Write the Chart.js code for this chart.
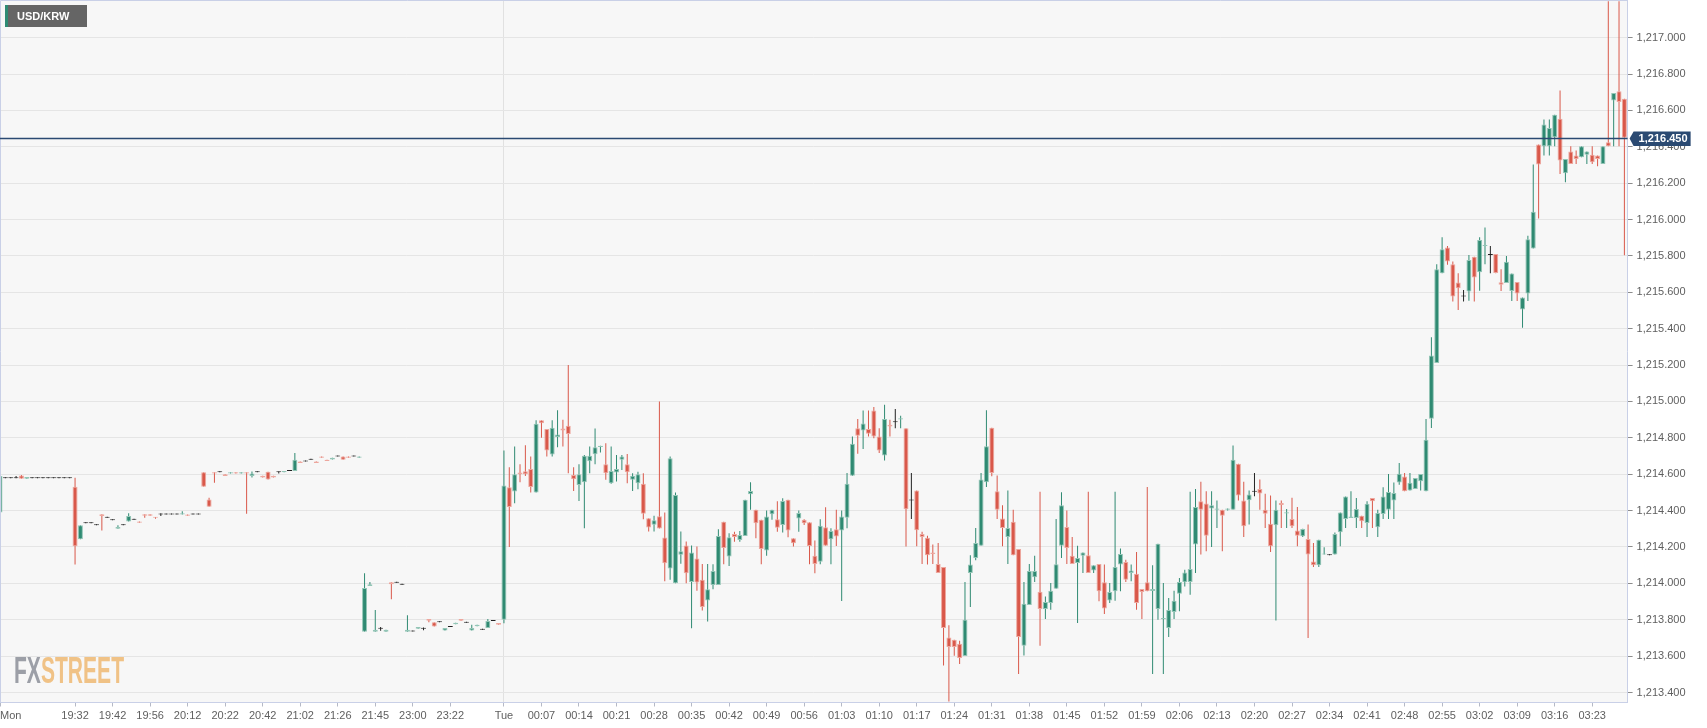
<!DOCTYPE html>
<html>
<head>
<meta charset="utf-8">
<title>USD/KRW</title>
<script src="https://cdn.jsdelivr.net/npm/chart.js@4.4.1/dist/chart.umd.min.js"></script>
<style>
    html, body { margin: 0; padding: 0; background: #ffffff; overflow: hidden; }
    #wrap { position: relative; width: 1707px; height: 728px; }
</style>
</head>
<body>
<div id="wrap"><canvas id="fxChart"></canvas></div>
<script>
// ==========================================================================
// Data: 1-minute USD/KRW candles (index 0 = first Monday candle, 94 = Tue 00:00)
// ==========================================================================

const openP = [
    1214.39, 1214.578, 1214.578, 1214.578, 1214.593, 1214.575, 1214.578, 1214.578, 1214.578, 1214.578,
    1214.578, 1214.578, 1214.578, 1214.578, 1214.531, 1214.242, 1214.33, 1214.33, 1214.32, 1214.38,
    1214.36, 1214.347, 1214.30, 1214.32, 1214.34, 1214.35, 1214.34, 1214.38, 1214.38, 1214.365,
    1214.378, 1214.378, 1214.378, 1214.378, 1214.378, 1214.378, 1214.378, 1214.378, 1214.611, 1214.461,
    1214.611, 1214.611, 1214.60, 1214.604, 1214.611, 1214.604, 1214.611, 1214.59, 1214.611, 1214.591,
    1214.613, 1214.591, 1214.611, 1214.611, 1214.617, 1214.617, 1214.67, 1214.67, 1214.68, 1214.67,
    1214.698, 1214.68, 1214.681, 1214.697, 1214.698, 1214.697, 1214.698, 1214.69, 1213.734, 1213.986,
    1213.734, 1213.75, 1213.734, 1214.006, 1214.003, 1213.992, 1213.734, 1213.736, 1213.75, 1213.75,
    1213.804, 1213.786, 1213.786, 1213.741, 1213.76, 1213.775, 1213.804, 1213.784, 1213.741, 1213.764,
    1213.745, 1213.754, 1213.793, 1213.782, 1213.80, 1214.528, 1214.505, 1214.61, 1214.616, 1214.629,
    1214.50, 1214.896, 1214.849, 1214.708, 1214.805, 1214.852, 1214.867, 1214.596, 1214.541, 1214.556,
    1214.671, 1214.71, 1214.75, 1214.655, 1214.55, 1214.609, 1214.679, 1214.655, 1214.569, 1214.55,
    1214.547, 1214.358, 1214.322, 1214.369, 1214.252, 1214.082, 1214.00, 1214.157, 1214.208, 1214.007,
    1214.137, 1214.02, 1213.906, 1213.991, 1213.991, 1214.338, 1214.147, 1214.272, 1214.239, 1214.26,
    1214.49, 1214.404, 1214.349, 1214.18, 1214.38, 1214.352, 1214.321, 1214.459, 1214.248, 1214.356,
    1214.349, 1214.336, 1214.152, 1214.119, 1214.308, 1214.242, 1214.297, 1214.29, 1214.361, 1214.591,
    1214.853, 1214.84, 1214.848, 1214.95, 1214.807, 1214.703, 1214.872, 1214.886, 1214.901, 1214.853,
    1214.455, 1214.51, 1214.272, 1214.251, 1214.17, 1214.106, 1214.09, 1213.703, 1213.69, 1213.668,
    1213.60, 1214.057, 1214.139, 1214.207, 1214.556, 1214.855, 1214.506, 1214.356, 1214.255, 1214.338,
    1214.189, 1213.657, 1213.881, 1214.033, 1213.954, 1213.859, 1213.892, 1213.971, 1214.207, 1214.31,
    1214.152, 1214.112, 1214.152, 1214.154, 1214.071, 1214.106, 1214.006, 1213.906, 1213.956, 1214.103,
    1214.117, 1214.057, 1214.053, 1213.969, 1214.006, 1213.958, 1213.859, 1213.804, 1213.754, 1213.842,
    1213.943, 1214.006, 1214.007, 1214.213, 1214.451, 1214.439, 1214.411, 1214.405, 1214.405, 1214.405,
    1214.405, 1214.657, 1214.455, 1214.457, 1214.503, 1214.519, 1214.405, 1214.328, 1214.319, 1214.442,
    1214.384, 1214.354, 1214.29, 1214.259, 1214.244, 1214.12, 1214.10, 1214.158, 1214.154, 1214.158,
    1214.281, 1214.354, 1214.359, 1214.359, 1214.372, 1214.332, 1214.469, 1214.308, 1214.381, 1214.405,
    1214.456, 1214.555, 1214.588, 1214.511, 1214.519, 1214.561, 1214.506, 1214.905, 1215.211, 1215.705,
    1215.846, 1215.754, 1215.654, 1215.577, 1215.604, 1215.796, 1215.71, 1215.855, 1215.805, 1215.811,
    1215.656, 1215.651, 1215.607, 1215.657, 1215.506, 1215.593, 1215.841, 1216.413, 1216.403, 1216.403,
    1216.453, 1216.554, 1216.254, 1216.374, 1216.352, 1216.343, 1216.356, 1216.356, 1216.352, 1216.306,
    1216.425, 1216.655, 1216.705, 1216.664
];

const highP = [
    1214.60, 1214.578, 1214.578, 1214.59, 1214.595, 1214.585, 1214.578, 1214.578, 1214.578, 1214.578,
    1214.578, 1214.578, 1214.578, 1214.578, 1214.58, 1214.32, 1214.33, 1214.33, 1214.32, 1214.38,
    1214.36, 1214.347, 1214.32, 1214.32, 1214.385, 1214.35, 1214.34, 1214.38, 1214.38, 1214.365,
    1214.385, 1214.378, 1214.378, 1214.378, 1214.397, 1214.378, 1214.378, 1214.378, 1214.611, 1214.47,
    1214.611, 1214.611, 1214.60, 1214.611, 1214.611, 1214.611, 1214.611, 1214.615, 1214.611, 1214.591,
    1214.613, 1214.591, 1214.615, 1214.617, 1214.617, 1214.717, 1214.67, 1214.67, 1214.68, 1214.67,
    1214.698, 1214.68, 1214.69, 1214.697, 1214.698, 1214.697, 1214.698, 1214.698, 1214.056, 1214.008,
    1213.853, 1213.76, 1213.745, 1214.006, 1214.003, 1213.992, 1213.825, 1213.736, 1213.76, 1213.758,
    1213.804, 1213.786, 1213.786, 1213.754, 1213.76, 1213.784, 1213.804, 1213.784, 1213.773, 1213.773,
    1213.745, 1213.804, 1213.793, 1213.782, 1214.73, 1214.638, 1214.752, 1214.655, 1214.759, 1214.697,
    1214.896, 1214.896, 1214.849, 1214.896, 1214.951, 1214.90, 1215.20, 1214.638, 1214.655, 1214.705,
    1214.752, 1214.852, 1214.757, 1214.77, 1214.752, 1214.706, 1214.706, 1214.711, 1214.605, 1214.614,
    1214.605, 1214.358, 1214.371, 1215.00, 1214.389, 1214.697, 1214.50, 1214.285, 1214.23, 1214.208,
    1214.203, 1214.106, 1214.106, 1214.105, 1214.297, 1214.338, 1214.275, 1214.284, 1214.288, 1214.459,
    1214.556, 1214.404, 1214.349, 1214.40, 1214.404, 1214.451, 1214.468, 1214.459, 1214.248, 1214.40,
    1214.352, 1214.336, 1214.235, 1214.352, 1214.418, 1214.303, 1214.404, 1214.40, 1214.606, 1214.807,
    1214.903, 1214.95, 1214.95, 1214.969, 1214.853, 1214.982, 1214.899, 1214.958, 1214.921, 1214.853,
    1214.607, 1214.51, 1214.284, 1214.262, 1214.213, 1214.222, 1214.09, 1213.769, 1213.69, 1213.684,
    1214.007, 1214.154, 1214.305, 1214.607, 1214.952, 1214.855, 1214.593, 1214.429, 1214.51, 1214.405,
    1214.189, 1214.007, 1214.106, 1214.152, 1214.503, 1213.928, 1214.002, 1214.354, 1214.501, 1214.40,
    1214.255, 1214.207, 1214.17, 1214.503, 1214.10, 1214.106, 1214.103, 1214.002, 1214.503, 1214.191,
    1214.13, 1214.103, 1214.172, 1213.969, 1214.53, 1214.099, 1214.218, 1214.002, 1213.919, 1213.96,
    1214.029, 1214.075, 1214.503, 1214.519, 1214.558, 1214.506, 1214.506, 1214.455, 1214.405, 1214.411,
    1214.758, 1214.657, 1214.558, 1214.51, 1214.607, 1214.571, 1214.492, 1214.483, 1214.455, 1214.455,
    1214.409, 1214.47, 1214.42, 1214.30, 1214.323, 1214.222, 1214.24, 1214.198, 1214.154, 1214.28,
    1214.39, 1214.478, 1214.506, 1214.469, 1214.372, 1214.451, 1214.469, 1214.405, 1214.528, 1214.601,
    1214.555, 1214.661, 1214.606, 1214.606, 1214.579, 1214.601, 1214.903, 1215.353, 1215.754, 1215.903,
    1215.855, 1215.769, 1215.705, 1215.613, 1215.805, 1215.796, 1215.903, 1215.957, 1215.855, 1215.811,
    1215.727, 1215.80, 1215.703, 1215.657, 1215.571, 1215.911, 1216.302, 1216.413, 1216.55, 1216.55,
    1216.576, 1216.71, 1216.333, 1216.403, 1216.38, 1216.403, 1216.374, 1216.403, 1216.352, 1216.403,
    1217.20, 1216.696, 1217.20, 1216.664
];

const lowP = [
    1214.39, 1214.578, 1214.578, 1214.578, 1214.575, 1214.575, 1214.578, 1214.578, 1214.578, 1214.578,
    1214.578, 1214.578, 1214.578, 1214.578, 1214.103, 1214.242, 1214.33, 1214.33, 1214.32, 1214.29,
    1214.36, 1214.347, 1214.30, 1214.32, 1214.34, 1214.35, 1214.333, 1214.36, 1214.372, 1214.355,
    1214.37, 1214.378, 1214.378, 1214.378, 1214.378, 1214.372, 1214.378, 1214.378, 1214.531, 1214.421,
    1214.553, 1214.611, 1214.59, 1214.604, 1214.604, 1214.604, 1214.383, 1214.582, 1214.611, 1214.582,
    1214.571, 1214.582, 1214.604, 1214.611, 1214.617, 1214.617, 1214.662, 1214.67, 1214.68, 1214.662,
    1214.69, 1214.673, 1214.681, 1214.697, 1214.68, 1214.69, 1214.698, 1214.69, 1213.734, 1213.986,
    1213.734, 1213.74, 1213.734, 1213.913, 1214.003, 1213.992, 1213.734, 1213.736, 1213.75, 1213.742,
    1213.786, 1213.763, 1213.786, 1213.741, 1213.76, 1213.775, 1213.795, 1213.784, 1213.741, 1213.764,
    1213.745, 1213.754, 1213.793, 1213.773, 1213.78, 1214.20, 1214.44, 1214.556, 1214.59, 1214.50,
    1214.50, 1214.80, 1214.697, 1214.697, 1214.748, 1214.753, 1214.605, 1214.508, 1214.453, 1214.303,
    1214.605, 1214.655, 1214.72, 1214.569, 1214.547, 1214.56, 1214.623, 1214.55, 1214.508, 1214.517,
    1214.353, 1214.285, 1214.285, 1214.302, 1214.011, 1214.02, 1214.00, 1214.108, 1214.00, 1213.753,
    1213.96, 1213.851, 1213.79, 1213.967, 1213.991, 1214.105, 1214.095, 1214.229, 1214.229, 1214.26,
    1214.404, 1214.248, 1214.105, 1214.152, 1214.349, 1214.284, 1214.28, 1214.253, 1214.202, 1214.284,
    1214.321, 1214.105, 1214.055, 1214.105, 1214.207, 1214.105, 1214.206, 1213.903, 1214.303, 1214.59,
    1214.712, 1214.738, 1214.807, 1214.798, 1214.716, 1214.675, 1214.807, 1214.853, 1214.853, 1214.202,
    1214.354, 1214.204, 1214.106, 1214.103, 1214.106, 1214.057, 1213.549, 1213.35, 1213.602, 1213.556,
    1213.60, 1213.87, 1214.127, 1214.207, 1214.53, 1214.589, 1214.354, 1214.204, 1214.106, 1214.154,
    1213.501, 1213.604, 1213.881, 1214.007, 1213.657, 1213.804, 1213.855, 1213.971, 1214.139, 1214.106,
    1214.106, 1213.782, 1214.057, 1214.057, 1214.057, 1213.901, 1213.831, 1213.892, 1213.905, 1213.956,
    1214.007, 1214.011, 1213.855, 1213.804, 1213.956, 1213.501, 1213.80, 1213.501, 1213.705, 1213.804,
    1213.846, 1213.983, 1213.938, 1214.057, 1214.158, 1214.176, 1214.20, 1214.305, 1214.176, 1214.40,
    1214.405, 1214.455, 1214.255, 1214.323, 1214.479, 1214.405, 1214.305, 1214.172, 1213.796, 1214.305,
    1214.305, 1214.305, 1214.204, 1214.255, 1213.699, 1214.09, 1214.09, 1214.158, 1214.154, 1214.158,
    1214.204, 1214.304, 1214.359, 1214.304, 1214.304, 1214.255, 1214.304, 1214.255, 1214.354, 1214.354,
    1214.354, 1214.542, 1214.506, 1214.511, 1214.519, 1214.511, 1214.506, 1214.854, 1215.211, 1215.705,
    1215.751, 1215.549, 1215.503, 1215.549, 1215.553, 1215.549, 1215.608, 1215.754, 1215.705, 1215.705,
    1215.607, 1215.651, 1215.552, 1215.552, 1215.405, 1215.552, 1215.841, 1216.006, 1216.352, 1216.352,
    1216.403, 1216.251, 1216.205, 1216.306, 1216.306, 1216.343, 1216.306, 1216.306, 1216.293, 1216.306,
    1216.403, 1216.403, 1216.403, 1215.804
];

const closeP = [
    1214.59, 1214.578, 1214.578, 1214.578, 1214.575, 1214.585, 1214.578, 1214.578, 1214.578, 1214.578,
    1214.578, 1214.578, 1214.578, 1214.578, 1214.204, 1214.32, 1214.33, 1214.33, 1214.32, 1214.37,
    1214.36, 1214.347, 1214.31, 1214.32, 1214.37, 1214.35, 1214.333, 1214.372, 1214.372, 1214.36,
    1214.378, 1214.378, 1214.378, 1214.378, 1214.385, 1214.372, 1214.378, 1214.378, 1214.531, 1214.421,
    1214.604, 1214.611, 1214.59, 1214.611, 1214.604, 1214.611, 1214.604, 1214.604, 1214.611, 1214.582,
    1214.571, 1214.582, 1214.611, 1214.617, 1214.617, 1214.68, 1214.662, 1214.67, 1214.68, 1214.662,
    1214.69, 1214.673, 1214.69, 1214.697, 1214.68, 1214.69, 1214.698, 1214.698, 1213.974, 1213.995,
    1213.745, 1213.75, 1213.745, 1213.995, 1214.003, 1213.992, 1213.745, 1213.736, 1213.76, 1213.75,
    1213.795, 1213.763, 1213.786, 1213.754, 1213.76, 1213.784, 1213.795, 1213.784, 1213.754, 1213.773,
    1213.745, 1213.793, 1213.793, 1213.773, 1214.538, 1214.42, 1214.60, 1214.60, 1214.60, 1214.53,
    1214.878, 1214.88, 1214.73, 1214.856, 1214.818, 1214.84, 1214.821, 1214.572, 1214.60, 1214.702,
    1214.702, 1214.748, 1214.757, 1214.605, 1214.618, 1214.629, 1214.697, 1214.611, 1214.591, 1214.60,
    1214.382, 1214.307, 1214.347, 1214.302, 1214.111, 1214.688, 1214.486, 1214.177, 1214.056, 1214.17,
    1214.005, 1213.87, 1213.968, 1214.068, 1214.26, 1214.194, 1214.253, 1214.255, 1214.266, 1214.459,
    1214.508, 1214.33, 1214.189, 1214.367, 1214.404, 1214.306, 1214.453, 1214.29, 1214.22, 1214.387,
    1214.33, 1214.206, 1214.106, 1214.317, 1214.207, 1214.288, 1214.257, 1214.367, 1214.547, 1214.767,
    1214.811, 1214.879, 1214.822, 1214.807, 1214.73, 1214.903, 1214.862, 1214.886, 1214.908, 1214.407,
    1214.455, 1214.292, 1214.255, 1214.154, 1214.161, 1214.057, 1213.754, 1213.65, 1213.65, 1213.589,
    1213.80, 1214.103, 1214.222, 1214.571, 1214.754, 1214.607, 1214.405, 1214.305, 1214.305, 1214.154,
    1213.705, 1213.888, 1214.068, 1214.068, 1213.859, 1213.897, 1213.96, 1214.105, 1214.429, 1214.194,
    1214.106, 1214.139, 1214.17, 1214.057, 1214.10, 1213.956, 1213.862, 1213.952, 1214.09, 1214.161,
    1214.02, 1214.07, 1213.892, 1213.952, 1213.956, 1213.969, 1214.218, 1213.81, 1213.853, 1213.905,
    1214.007, 1214.06, 1214.079, 1214.42, 1214.405, 1214.262, 1214.429, 1214.411, 1214.372, 1214.411,
    1214.68, 1214.483, 1214.314, 1214.488, 1214.503, 1214.494, 1214.382, 1214.204, 1214.405, 1214.431,
    1214.391, 1214.314, 1214.262, 1214.299, 1214.158, 1214.10, 1214.24, 1214.163, 1214.154, 1214.271,
    1214.39, 1214.478, 1214.368, 1214.409, 1214.341, 1214.438, 1214.451, 1214.387, 1214.478, 1214.502,
    1214.497, 1214.603, 1214.506, 1214.553, 1214.579, 1214.601, 1214.79, 1215.253, 1215.727, 1215.837,
    1215.769, 1215.577, 1215.622, 1215.577, 1215.778, 1215.681, 1215.888, 1215.86, 1215.805, 1215.706,
    1215.642, 1215.768, 1215.703, 1215.593, 1215.571, 1215.892, 1216.043, 1216.302, 1216.523, 1216.503,
    1216.576, 1216.324, 1216.333, 1216.306, 1216.333, 1216.403, 1216.374, 1216.315, 1216.333, 1216.403,
    1216.403, 1216.696, 1216.646, 1216.45
];

// x-axis labels sit on candle indexes (sessions are packed, so times are uneven before Tue)
const tickIdx = [
    0, 14, 21, 28, 35, 42, 49, 56, 63, 70, 77, 84, 94,
    101, 108, 115, 122, 129, 136, 143, 150, 157, 164, 171, 178, 185, 192, 199,
    206, 213, 220, 227, 234, 241, 248, 255, 262, 269, 276, 283, 290, 297
];
const tickText = [
    'Mon', '19:32', '19:42', '19:56', '20:12', '20:22', '20:42', '21:02', '21:26', '21:45', '23:00', '23:22', 'Tue',
    '00:07', '00:14', '00:21', '00:28', '00:35', '00:42', '00:49', '00:56', '01:03', '01:10', '01:17', '01:24', '01:31',
    '01:38', '01:45', '01:52', '01:59', '02:06', '02:13', '02:20', '02:27', '02:34', '02:41', '02:48', '02:55',
    '03:02', '03:09', '03:16', '03:23'
];
const yTicks = [
    1213.4, 1213.6, 1213.8, 1214.0, 1214.2, 1214.4, 1214.6, 1214.8, 1215.0,
    1215.2, 1215.4, 1215.6, 1215.8, 1216.0, 1216.2, 1216.4, 1216.6, 1216.8, 1217.0
];

const DAY_BREAK = 94;
const X_MAX = 303.6;
const Y_MIN = 1213.345;
const Y_MAX = 1217.207;

const UP = '#2f8a72', UP_EDGE = '#93c5b6';
const DOWN = '#d9584a', DOWN_EDGE = '#eda79e';
const FLAT = '#222222';
const NAVY = '#2b4a72';
const FRAME = '#c9d0e7';

Chart.defaults.font.family = '"Liberation Sans", Arial, sans-serif';
Chart.defaults.font.size = 11;
Chart.defaults.color = '#666666';

// ==========================================================================
// Build candle datasets (wick = thin floating bar, body = open/close bar)
// ==========================================================================

function candleColor(i) {
    if (closeP[i] > openP[i]) return UP;
    if (closeP[i] < openP[i]) return DOWN;
    return FLAT;
}

function candleEdge(i) {
    if (closeP[i] > openP[i]) return UP_EDGE;
    if (closeP[i] < openP[i]) return DOWN_EDGE;
    return FLAT;
}

const wickData = openP.map((_, i) => ({ x: i, y: [lowP[i], highP[i]] }));
const bodyData = openP.map((_, i) => ({ x: i, y: [openP[i], closeP[i]] }));
const fills = openP.map((_, i) => candleColor(i));
const edges = openP.map((_, i) => candleEdge(i));

// ==========================================================================
// Canvas decorations
// ==========================================================================

const plotBackground = {
    id: 'plotBackground',
    beforeDraw(chart) {
        const { ctx, chartArea: a } = chart;
        ctx.save();
        ctx.fillStyle = '#ffffff';
        ctx.fillRect(0, 0, chart.width, chart.height);
        ctx.fillStyle = '#f7f7f7';
        ctx.fillRect(a.left, a.top, a.right - a.left, a.bottom - a.top);
        ctx.restore();
    }
};

const watermark = {
    id: 'watermark',
    beforeDatasetsDraw(chart) {
        const ctx = chart.ctx;
        ctx.save();
        ctx.font = 'bold 36px "Liberation Sans", Arial, sans-serif';
        const wFx = ctx.measureText('FX').width;
        const wSt = ctx.measureText('STREET').width;
        ctx.translate(14, 683);
        ctx.scale(110 / (wFx + wSt), 1);
        ctx.textBaseline = 'alphabetic';
        ctx.fillStyle = '#9c9fa7';
        ctx.fillText('FX', 0, 0);
        ctx.fillStyle = '#f0c286';
        ctx.fillText('STREET', wFx, 0);
        ctx.restore();
    }
};

const priceMarker = {
    id: 'priceMarker',
    afterDatasetsDraw(chart) {
        const { ctx, chartArea: a } = chart;
        const py = Math.round(chart.scales.y.getPixelForValue(closeP[closeP.length - 1])) + 0.5;
        ctx.save();
        ctx.strokeStyle = FRAME;
        ctx.lineWidth = 1;
        ctx.beginPath();
        ctx.moveTo(0.5, a.bottom);
        ctx.lineTo(0.5, 0.5);
        ctx.lineTo(a.right, 0.5);
        ctx.stroke();
        ctx.strokeStyle = NAVY;
        ctx.lineWidth = 1.3;
        ctx.beginPath();
        ctx.moveTo(a.left, py);
        ctx.lineTo(a.right, py);
        ctx.stroke();
        ctx.restore();
    },
    afterDraw(chart) {
        const { ctx, chartArea: a } = chart;
        const last = closeP[closeP.length - 1];
        const py = Math.round(chart.scales.y.getPixelForValue(last)) + 0.5;
        const x0 = a.right + 2;
        ctx.save();
        ctx.fillStyle = NAVY;
        ctx.beginPath();
        ctx.moveTo(x0, py);
        ctx.lineTo(x0 + 4, py - 7);
        ctx.lineTo(x0 + 61, py - 7);
        ctx.lineTo(x0 + 61, py + 7.5);
        ctx.lineTo(x0 + 4, py + 7.5);
        ctx.closePath();
        ctx.fill();
        ctx.fillStyle = '#ffffff';
        ctx.font = 'bold 11px "Liberation Sans", Arial, sans-serif';
        ctx.textBaseline = 'middle';
        ctx.fillText(last.toLocaleString('en-US', { minimumFractionDigits: 3, maximumFractionDigits: 3 }), x0 + 9, py + 0.5);

        // pair badge, top left
        ctx.fillStyle = '#656565';
        ctx.fillRect(5, 5, 82, 22);
        ctx.fillStyle = '#2e8b73';
        ctx.fillRect(5, 5, 3, 22);
        ctx.fillStyle = '#ffffff';
        ctx.fillText('USD/KRW', 17, 16.5);
        ctx.restore();
    }
};

// ==========================================================================
// Chart
// ==========================================================================

new Chart(document.getElementById('fxChart'), {
    type: 'bar',
    data: {
        datasets: [
            {
                label: 'wick',
                data: wickData,
                backgroundColor: fills,
                borderWidth: 0,
                barThickness: 1,
                minBarLength: 1,
                inflateAmount: 0,
                grouped: false,
                order: 2
            },
            {
                label: 'body',
                data: bodyData,
                backgroundColor: fills,
                borderColor: edges,
                borderWidth: 1,
                borderSkipped: false,
                barThickness: 5,
                minBarLength: 1,
                inflateAmount: 0,
                grouped: false,
                order: 1
            }
        ]
    },
    options: {
        responsive: true,
        maintainAspectRatio: false,
        animation: false,
        layout: { padding: 0 },
        plugins: {
            legend: { display: false },
            tooltip: { enabled: false }
        },
        scales: {
            x: {
                type: 'linear',
                min: 0,
                max: X_MAX,
                bounds: 'data',
                offset: false,
                grid: {
                    offset: false,
                    color: ctx => (ctx.tick && ctx.tick.value === DAY_BREAK) ? '#e1e1e1' : 'rgba(0,0,0,0)',
                    tickColor: ctx => ctx.index < tickText.length ? '#b5b9c6' : 'rgba(0,0,0,0)',
                    tickLength: 4
                },
                border: { color: FRAME },
                ticks: {
                    autoSkip: false,
                    maxRotation: 0,
                    align: 'inner',
                    padding: 3,
                    color: '#5f5f5f',
                    callback: (value, index) => index < tickText.length ? tickText[index] : ''
                },
                afterBuildTicks: scale => {
                    scale.ticks = tickIdx.map(v => ({ value: v })).concat([{ value: X_MAX }]);
                },
                afterFit: scale => {
                    scale.height = 25.5;
                    scale.paddingLeft = 0;
                    scale.paddingRight = 0;
                }
            },
            y: {
                position: 'right',
                min: Y_MIN,
                max: Y_MAX,
                bounds: 'data',
                grid: { color: '#e5e5e5', tickColor: '#8c8c8c', tickLength: 5 },
                border: { color: FRAME },
                ticks: {
                    padding: 4,
                    color: '#5f5f5f',
                    callback: v => Number(v).toLocaleString('en-US', { minimumFractionDigits: 3, maximumFractionDigits: 3 })
                },
                afterBuildTicks: scale => {
                    scale.ticks = yTicks.map(v => ({ value: v }));
                },
                afterFit: scale => {
                    scale.width = 79.4;
                    scale.paddingTop = 0;
                    scale.paddingBottom = 0;
                }
            }
        }
    },
    plugins: [plotBackground, watermark, priceMarker]
});
</script>
</body>
</html>
